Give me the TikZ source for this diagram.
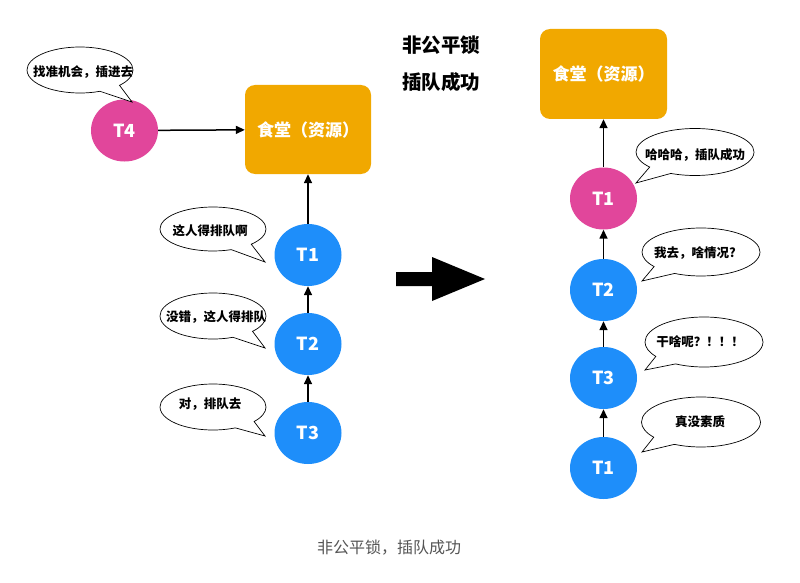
\documentclass[tikz,border=0pt]{standalone}
\usepackage{fontspec}
\setmainfont{Noto Sans CJK SC}
\usetikzlibrary{positioning}
\usetikzlibrary{shapes.geometric}
\usetikzlibrary{shapes.callouts}
\usetikzlibrary{arrows.meta}
\definecolor{queueblue}{RGB}{30,142,250}
\definecolor{jumppink}{RGB}{225,70,155}
\definecolor{canteen}{RGB}{241,168,0}
\definecolor{captiongray}{RGB}{85,85,85}

\begin{document}
\begin{tikzpicture}[x = 1pt, y = -1pt,
		thread/.style = {ellipse, fill = queueblue, minimum width = 67pt, minimum height = 62pt, inner sep = 0pt, text = white, font = \fontsize{18}{18}\selectfont\bfseries},
		jumper/.style = {thread, fill = jumppink},
		canteenbox/.style = {rectangle, rounded corners = 10pt, fill = canteen, minimum width = 126pt, minimum height = 89pt, text = white, font = \fontsize{17}{17}\selectfont\bfseries},
		bubble/.style = {ellipse callout, draw = black, line width = 0.7pt, fill = white, minimum width = 106pt, minimum height = 46pt, inner sep = 0pt, callout pointer arc = 26},
		saying/.style = {font = \fontsize{12.5}{12.5}\selectfont\bfseries, inner sep = 0pt},
		link/.style = {black, line width = 1.5pt, -{Triangle[length = 9pt, width = 8pt]}}]
	\useasboundingbox (0, 0) rectangle (800, 583);
	\fill [white] (0, 0) rectangle (800, 583);

	% before: T4 jumps the queue
	\node [canteenbox] (foodL) at (308, 129.5) {食堂（资源）};
	\node [jumper] (t4) at (124.5, 130.5) {T4};
	\node [thread] (t1L) at (308, 255) {T1};
	\node [thread] (t2L) at (308, 344) {T2};
	\node [thread] (t3L) at (308, 433) {T3};
	\draw [link] (t4) -- (foodL);
	\draw [link] (t1L) -- (foodL);
	\draw [link] (t2L) -- (t1L);
	\draw [link] (t3L) -- (t2L);

	\node [bubble, callout absolute pointer = {(132, 102)}, minimum width = 106pt] (sayT4) at (80, 70) {};
	\node [saying] at (83, 72) {找准机会，插进去};
	\node [bubble, callout absolute pointer = {(265, 262)}, minimum height = 44pt] (sayT1L) at (213, 229) {};
	\node [saying] at (210, 231) {这人得排队啊};
	\node [bubble, callout absolute pointer = {(265, 348)}] (sayT2L) at (213, 316) {};
	\node [saying] at (216, 317) {没错，这人得排队};
	\node [bubble, callout absolute pointer = {(265, 436)}] (sayT3L) at (213, 407) {};
	\node [saying] at (210, 404) {对，排队去};

	% title and big arrow
	\node [font = \fontsize{19.5}{19.5}\selectfont\bfseries] (title1) at (441, 45) {非公平锁};
	\node [font = \fontsize{19.5}{19.5}\selectfont\bfseries] (title2) at (441, 82) {插队成功};
	\fill [black] (396, 272) -- (432, 272) -- (432, 257) -- (485, 279) -- (432, 301) -- (432, 286) -- (396, 286) -- cycle;

	% after: new queue order
	\node [canteenbox, minimum width = 127pt, minimum height = 90pt] (foodR) at (603.5, 74) {食堂（资源）};
	\node [jumper] (t1R) at (603.5, 198.5) {T1};
	\node [thread] (t2R) at (603.5, 290) {T2};
	\node [thread] (t3R) at (603.5, 378) {T3};
	\node [thread] (t1B) at (603.5, 468) {T1};
	\draw [link] (t1R) -- (foodR);
	\draw [link] (t2R) -- (t1R);
	\draw [link] (t3R) -- (t2R);
	\draw [link] (t1B) -- (t3R);

	\node [bubble, callout absolute pointer = {(636, 183)}, minimum width = 118pt, minimum height = 47pt] (sayT1R) at (695, 152) {};
	\node [saying] at (695, 155) {哈哈哈，插队成功};
	\node [bubble, callout absolute pointer = {(642, 281)}, minimum width = 118pt, minimum height = 48pt] (sayT2R) at (701, 252) {};
	\node [saying] at (695, 253) {我去，啥情况?};
	\node [bubble, callout absolute pointer = {(645, 370)}, minimum width = 118pt, minimum height = 50pt] (sayT3R) at (704, 342) {};
	\node [saying] at (700, 342) {干啥呢？！！！};
	\node [bubble, callout absolute pointer = {(642, 452)}, minimum width = 119pt, minimum height = 50pt] (sayT1B) at (701, 422) {};
	\node [saying] at (700, 422) {真没素质};

	\node [font = \fontsize{16}{16}\selectfont, text = captiongray] (caption) at (389, 548) {非公平锁，插队成功};
\end{tikzpicture}
\end{document}
